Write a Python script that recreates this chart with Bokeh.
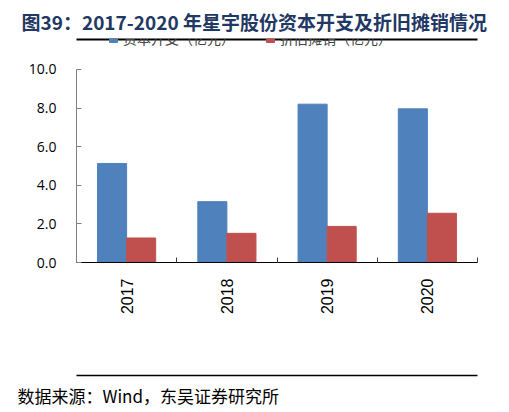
from math import pi

from bokeh.embed import file_html
from bokeh.models import (CategoricalAxis, ColumnDataSource, FactorRange, FixedTicker,
                          Legend, LegendItem, LinearAxis, NumeralTickFormatter, Range1d, Title)
from bokeh.plotting import figure
from bokeh.resources import INLINE
from bokeh.transform import dodge

# data
years = ["2017", "2018", "2019", "2020"]
capex = [5.13, 3.15, 8.20, 7.96]          # 资本开支（亿元）
depreciation = [1.27, 1.51, 1.87, 2.55]   # 折旧摊销（亿元）
y_ticks = [0, 2, 4, 6, 8, 10]

title_text = "图39：2017-2020 年星宇股份资本开支及折旧摊销情况"
source_text = "数据来源：Wind，东吴证券研究所"
series_names = ["资本开支（亿元）", "折旧摊销（亿元）"]

BLUE = "#4F81BD"
RED = "#C0504D"
NAVY = "#1F3864"
CJK = "Noto Sans CJK SC"

source = ColumnDataSource(data=dict(year=years, capex=capex, dep=depreciation))

# the frame runs up to the title rule; the value axis itself stops at 10
p = figure(width=509, height=412, x_range=FactorRange(*years), y_range=Range1d(0, 11.55),
		   toolbar_location=None, output_backend="svg", x_axis_location=None,
		   y_axis_location=None, min_border_left=76, min_border_right=32,
		   min_border_top=33, min_border_bottom=140)
p.outline_line_color = None
p.grid.visible = False

r1 = p.vbar(x=dodge("year", -0.145, range=p.x_range), top="capex", width=0.29,
			source=source, fill_color=BLUE, line_color=BLUE)
r2 = p.vbar(x=dodge("year", 0.145, range=p.x_range), top="dep", width=0.29,
			source=source, fill_color=RED, line_color=RED)

yaxis = LinearAxis(ticker=FixedTicker(ticks=y_ticks), formatter=NumeralTickFormatter(format="0.0"),
				   bounds=(0, 10))
yaxis.axis_line_color = "#808080"
yaxis.major_tick_line_color = "#808080"
yaxis.major_tick_in = 5
yaxis.major_tick_out = 0
yaxis.minor_tick_line_color = None
yaxis.major_label_standoff = 20
yaxis.major_label_text_font = "Open Sans"
yaxis.major_label_text_font_size = "14px"
yaxis.major_label_text_color = "black"
p.add_layout(yaxis, "left")

# boundary ticks between the categories (synthetic coordinates 0..4)
edge_axis = LinearAxis(ticker=FixedTicker(ticks=list(range(len(years) + 1))))
edge_axis.axis_line_color = "black"
edge_axis.major_tick_line_color = "#404040"
edge_axis.major_tick_in = 5
edge_axis.major_tick_out = 0
edge_axis.minor_tick_line_color = None
edge_axis.major_label_text_font_size = "0px"
edge_axis.major_label_standoff = 0
p.add_layout(edge_axis, "below")

xaxis = CategoricalAxis()
xaxis.axis_line_color = None
xaxis.major_tick_line_color = None
xaxis.major_label_orientation = pi / 2
xaxis.major_label_standoff = 10
xaxis.major_label_text_font = "Liberation Sans"
xaxis.major_label_text_font_size = "16px"
xaxis.major_label_text_color = "black"
# blank axis label only keeps room for the legend row below the years
xaxis.axis_label = " "
xaxis.axis_label_standoff = 38
xaxis.axis_label_text_font_size = "16px"
p.add_layout(xaxis, "below")

legend = Legend(items=[LegendItem(label=series_names[0], renderers=[r1]),
					   LegendItem(label=series_names[1], renderers=[r2])],
				orientation="horizontal", location=(32, 214))
legend.border_line_color = None
legend.background_fill_color = None
legend.label_text_font = CJK
legend.label_text_font_size = "14px"
legend.glyph_width = 10
legend.glyph_height = 10
legend.label_standoff = 5
legend.spacing = 30
legend.padding = 0
legend.margin = 0
p.add_layout(legend)


def rule(side, width):
	# bare axis line used as the page rule
	ax = LinearAxis(ticker=FixedTicker(ticks=[0]))
	ax.axis_line_color = "black"
	ax.axis_line_width = width
	ax.major_tick_line_color = None
	ax.minor_tick_line_color = None
	ax.major_tick_out = 0
	ax.major_tick_in = 0
	ax.major_label_text_font_size = "0px"
	ax.major_label_standoff = 0
	p.add_layout(ax, side)


rule("above", 2)
p.add_layout(Title(text=title_text, align="left", offset=-55, standoff=10,
				   text_font=CJK, text_font_style="bold", text_font_size="19px",
				   text_color=NAVY), "above")

rule("below", 1.5)
p.add_layout(Title(text=source_text, align="left", offset=-59, standoff=10,
				   text_font=CJK, text_font_style="normal", text_font_size="17px",
				   text_color="black"), "below")

open("out.html", "w").write(file_html(p, INLINE))
